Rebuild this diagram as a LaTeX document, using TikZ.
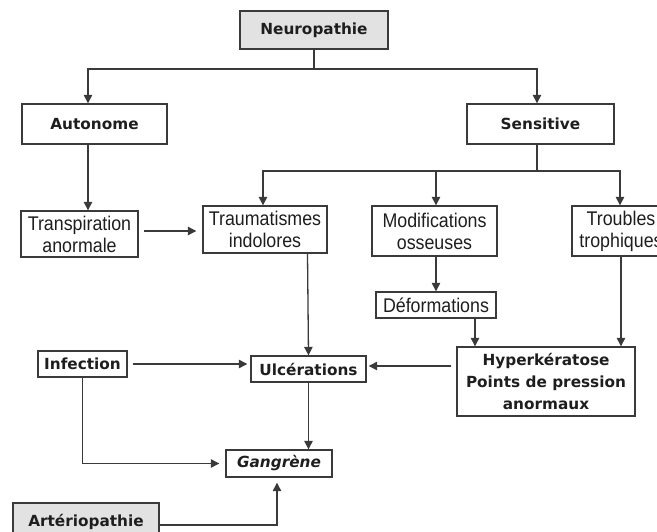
\documentclass[tikz,border=0pt]{standalone}
\usepackage{fontspec}
\setmainfont{Liberation Sans}
\newfontfamily\djv{DejaVu Sans}
\newfontfamily\narr[FakeStretch=0.9]{Liberation Sans}
\usetikzlibrary{arrows.meta}
\definecolor{boxgray}{HTML}{E2E2E2}
\definecolor{linec}{HTML}{3A3A3A}
\definecolor{txt}{HTML}{1E1E1E}
\tikzset{
 bx/.style={draw=linec, line width=1.4pt, inner sep=0pt, align=center, text=txt},
 bb/.style={bx, font=\djv\bfseries\fontsize{15.3}{22}\selectfont},
 bn/.style={bx, font=\narr\fontsize{19.8}{22}\selectfont},
 arr/.style={draw=linec, line width=1.3pt, -{Triangle[length=8.5pt,width=8.5pt]}},
 ln/.style={draw=linec, line width=1.3pt},
}
\begin{document}
\begin{tikzpicture}[x=1pt,y=-1pt]
\useasboundingbox (0,0) rectangle (657,531);
\clip (0,0) rectangle (657,531);
% nodes
\node[bb, fill=boxgray, minimum width=148, minimum height=38] (neu) at (314,30) {Neuropathie};
\node[bb, minimum width=145, minimum height=40] (aut) at (94.5,124) {Autonome};
\node[bb, minimum width=147, minimum height=40] (sen) at (540.5,124) {Sensitive};
\node[bn, minimum width=117, minimum height=46] (tra) at (79.5,234) {Transpiration\\anormale};
\node[bn, minimum width=124, minimum height=47] (trau) at (265,229.5) {Traumatismes\\indolores};
\node[bn, minimum width=125, minimum height=50] (mod) at (434.5,231) {Modifications\\osseuses};
\node[bn, minimum width=98, minimum height=50] (tro) at (621,231) {Troubles\\trophiques};
\node[bn, minimum width=120, minimum height=26] (def) at (436,305) {Déformations};
\node[bb, minimum width=178, minimum height=69] (hyp) at (546,381.5) {Hyperkératose\\Points de pression\\anormaux};
\node[bb, minimum width=89, minimum height=26] (inf) at (82.5,364) {Infection};
\node[bb, minimum width=115, minimum height=26] (ulc) at (308.5,369) {Ulcérations};
\node[bb, minimum width=106, minimum height=27, font=\djv\bfseries\itshape\fontsize{15.3}{22}\selectfont] (gan) at (279,463.5) {Gangrène};
\node[bb, fill=boxgray, minimum width=146, minimum height=37] (art) at (86,521.5) {Artériopathie};
% helper coordinates
\coordinate (j1) at (314,69);
\coordinate (j2) at (537,171);
\coordinate (y231) at (0,231);
\coordinate (y366) at (0,366);
\coordinate (y525) at (0,525);
% connectors
\draw[ln] (neu.south) -- (j1);
\draw[arr] (j1) -| ([xshift=-6.5]aut.north);
\draw[arr] (j1) -| ([xshift=-3.5]sen.north);
\draw[ln] ([xshift=-3.5]sen.south) -- (j2);
\draw[arr] (j2) -| ([xshift=-2]trau.north);
\draw[arr] (j2) -| ([xshift=1.5]mod.north);
\draw[arr] (j2) -| ([xshift=-1]tro.north);
\draw[arr] ([xshift=-6.5]aut.south) -- ([xshift=8.5]tra.north);
\draw[arr, shorten <=5pt, shorten >=6pt] (tra.east |- y231) -- (trau.west |- y231);
\draw[arr] ([xshift=1.5]mod.south) -- (def.north);
\draw[arr] ([xshift=39]def.south) -- ([xshift=39]def.south |- hyp.north);
\draw[arr] (tro.south) -- (tro.south |- hyp.north);
\draw[arr] ([xshift=-1]trau.south -| ulc.north) -- (ulc.north);
\draw[arr, shorten <=5pt, shorten >=2pt] (hyp.west |- y366) -- (ulc.east |- y366);
\draw[arr, shorten <=5pt, shorten >=3pt] (inf.east) -- (ulc.west |- inf.east);
\draw[arr, shorten >=6pt] (inf.south) |- (gan.west);
\draw[arr] (ulc.south) -- (ulc.south |- gan.north);
\draw[arr, shorten >=5pt] (art.east |- y525) -| ([xshift=-2]gan.south);
\end{tikzpicture}
\end{document}
